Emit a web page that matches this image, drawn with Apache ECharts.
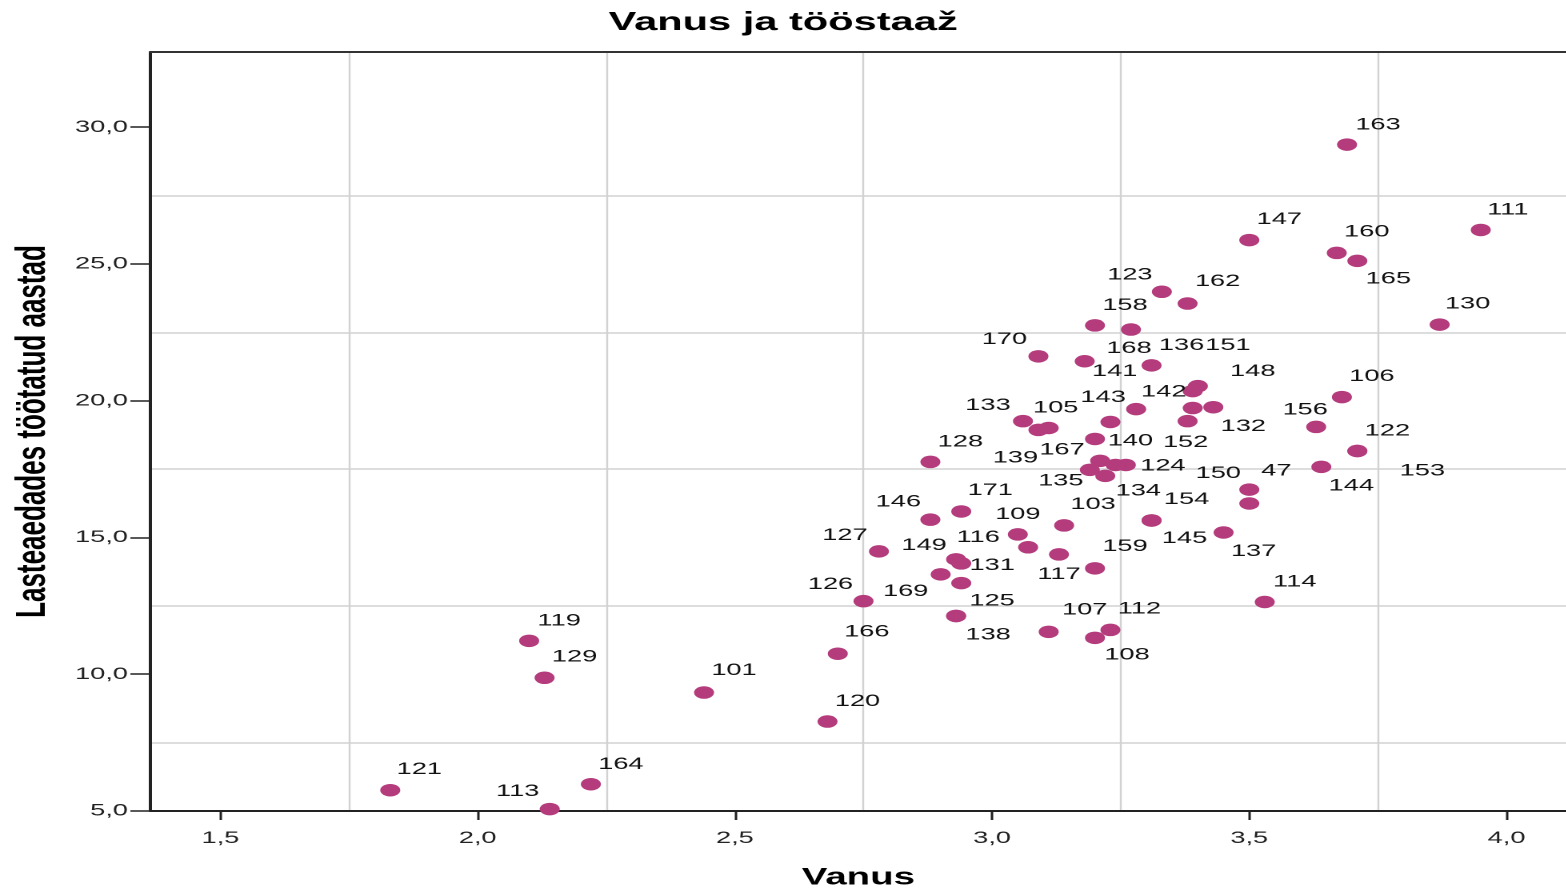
<!DOCTYPE html>
<html>
<head>
<meta charset="utf-8">
<script src="https://cdn.jsdelivr.net/npm/echarts@6.0.0/dist/echarts.min.js"></script>
<style>
  html, body { margin: 0; padding: 0; background: #fff; overflow: hidden; }
  #wrap { width: 1566px; height: 895px; overflow: hidden; position: relative; }
  #main { position: absolute; left: 0; top: 0; height: 895px; transform-origin: 0 0; }
</style>
</head>
<body>
<div id="wrap"><div id="main"></div></div>
<script>
// ---------------- data ----------------
const caseIds = ['163','147','160','165','111','130','123','162','158','168',
  '136','170','141','151','148','142','132','152','106','156',
  '143','105','133','139','140','167','124','135','134','',
  '','171','146','128','127','126','149','116','169','131',
  '125','138','103','109','','117','159','107','112','108',
  '145','154','137','47','150','114','144','122','153','119',
  '129','101','166','120','121','113','164'];
const vanus = [3.69,3.50,3.67,3.71,3.95,3.87,3.33,3.38,3.20,3.27,
  3.31,3.09,3.18,3.40,3.39,3.39,3.43,3.38,3.68,3.63,
  3.28,3.11,3.06,3.09,3.23,3.20,3.26,3.19,3.22,3.21,
  3.24,2.94,2.88,2.88,2.78,2.75,2.93,2.94,2.90,2.94,
  2.93,2.93,3.14,3.05,3.07,3.13,3.20,3.11,3.23,3.20,
  3.31,3.31,3.45,3.50,3.50,3.53,3.64,3.71,3.71,2.10,
  2.13,2.44,2.70,2.68,1.83,2.14,2.22];
const staaz = [29.36,25.87,25.40,25.11,26.24,22.78,23.98,23.55,22.75,22.60,
  21.29,21.62,21.44,20.53,20.35,19.73,19.76,19.25,20.13,19.04,
  19.69,19.00,19.25,18.93,19.22,18.60,17.65,17.47,17.25,17.80,
  17.65,15.95,15.65,17.76,14.49,12.67,14.20,14.05,13.65,13.33,
  12.13,12.13,15.44,15.11,14.64,14.38,13.87,11.55,11.62,11.33,
  15.62,15.62,15.18,16.75,16.24,12.64,17.58,18.16,18.16,11.22,
  9.87,9.33,10.75,8.27,5.76,5.07,5.98];
const xTicks = [1.5, 2.0, 2.5, 3.0, 3.5, 4.0];
const yTicks = [5, 10, 15, 20, 25, 30];
const xGrid = [1.75, 2.25, 2.75, 3.25, 3.75];
const yGrid = [7.5, 12.5, 17.5, 22.5, 27.5];

// ---------------- label placement (style) ----------------
const labelOffsets = {
  '163':[31,-20],'147':[30,-21],'160':[30,-21],'165':[31,18],'111':[27,-20],'130':[28,-21],
  '123':[-32,-17],'162':[30,-22],'158':[30,-20],'168':[-2,19],'136':[30,-20],'170':[-34,-17],
  '141':[30,10],'151':[30,-41],'148':[60,-20],'142':[-29,-16],'132':[30,19],'152':[-2,21],
  '106':[30,-21],'156':[-11,-17],'143':[-33,-12],'105':[7,-20],'133':[-35,-16],'139':[-23,28],
  '140':[20,19],'167':[-33,11],'124':[37,1],'135':[-29,11],'134':[33,15],'171':[29,-21],
  '146':[-32,-18],'128':[30,-20],'127':[-34,-16],'126':[-33,-17],'149':[-32,-14],'116':[17,-26],
  '169':[-35,17],'131':[31,-18],'125':[36,-15],'138':[32,19],'103':[29,-21],'109':[0,-20],
  '117':[0,20],'159':[30,-22],'107':[36,-22],'112':[29,-21],'108':[32,17],'145':[33,18],
  '154':[35,-21],'137':[30,19],'47':[27,-19],'150':[-31,-30],'114':[30,-20],'144':[30,19],
  '122':[30,-20],'153':[65,20],'119':[30,-20],'129':[30,-21],'101':[30,-22],'166':[29,-22],
  '120':[30,-20],'121':[29,-21],'113':[-32,-18],'164':[30,-20]
};

const STRETCH = 1.6;
const W = 1566 / STRETCH;
const FONT = "'Liberation Sans', Arial, sans-serif";
const X_MIN = 1.3637, X_MAX = 4.1164, Y_MIN = 5, Y_MAX = 32.745;

const mainEl = document.getElementById('main');
mainEl.style.width = W + 'px';
mainEl.style.transform = 'scaleX(' + STRETCH + ')';

const fmt = v => Number(v).toFixed(1).replace('.', ',');

const points = caseIds.map((id, i) => {
  const off = labelOffsets[id];
  return {
    name: id,
    value: [vanus[i], staaz[i]],
    label: off ? { show: true, offset: [off[0] / STRETCH, off[1]] } : { show: false }
  };
});

const chart = echarts.init(mainEl, null, { renderer: 'canvas', devicePixelRatio: 2 });
chart.setOption({
  animation: false,
  backgroundColor: '#ffffff',
  title: {
    text: 'Vanus ja tööstaaž',
    left: 'center',
    top: 5,
    textStyle: { fontFamily: FONT, fontWeight: 'bold', fontSize: 26, color: '#000' }
  },
  grid: { left: 147 / STRETCH, right: 0, top: 52, bottom: 80, containLabel: false },
  xAxis: [{
    type: 'value', min: X_MIN, max: X_MAX, position: 'bottom',
    name: 'Vanus', nameLocation: 'middle', nameGap: 55,
    nameTextStyle: { fontFamily: FONT, fontWeight: 'bold', fontSize: 24, color: '#000' },
    axisLine: { show: true, onZero: false, lineStyle: { color: '#222', width: 2 } },
    axisTick: { show: true, length: 9, customValues: xTicks, lineStyle: { color: '#222', width: 1.5 } },
    axisLabel: { show: true, customValues: xTicks, margin: 19, formatter: fmt,
      fontFamily: FONT, fontSize: 17, color: '#222' },
    splitLine: { show: false }
  }, {
    type: 'value', min: X_MIN, max: X_MAX, position: 'top',
    axisLine: { show: true, onZero: false, lineStyle: { color: '#333', width: 2 } },
    axisTick: { show: false, customValues: xGrid },
    axisLabel: { show: false, customValues: xGrid },
    splitLine: { show: true, lineStyle: { color: '#d2d2d2', width: 1.2 } }
  }],
  yAxis: [{
    type: 'value', min: Y_MIN, max: Y_MAX, position: 'left',
    name: 'Lasteaedades töötatud aastad', nameLocation: 'middle', nameGap: 60, nameRotate: 90,
    nameTextStyle: { fontFamily: FONT, fontWeight: 'bold', fontSize: 26, color: '#000' },
    axisLine: { show: true, onZero: false, lineStyle: { color: '#222', width: 2 } },
    axisTick: { show: true, length: 12.5, customValues: yTicks, lineStyle: { color: '#222', width: 1.5 } },
    axisLabel: { show: true, customValues: yTicks, margin: 14, formatter: fmt,
      fontFamily: FONT, fontSize: 17, color: '#222' },
    splitLine: { show: false }
  }, {
    type: 'value', min: Y_MIN, max: Y_MAX, position: 'right',
    axisLine: { show: false },
    axisTick: { show: false, customValues: yGrid },
    axisLabel: { show: false, customValues: yGrid },
    splitLine: { show: true, lineStyle: { color: '#d2d2d2', width: 1.5 } }
  }],
  series: [{
    type: 'scatter',
    xAxisIndex: 0, yAxisIndex: 0,
    symbol: 'circle',
    symbolSize: 12.5,
    itemStyle: { color: '#b43c7d', opacity: 1 },
    label: {
      show: true, position: 'inside',
      formatter: p => p.name,
      fontFamily: FONT, fontSize: 17, color: '#111'
    },
    emphasis: { disabled: true },
    data: points,
    z: 3
  }]
});
</script>
</body>
</html>
